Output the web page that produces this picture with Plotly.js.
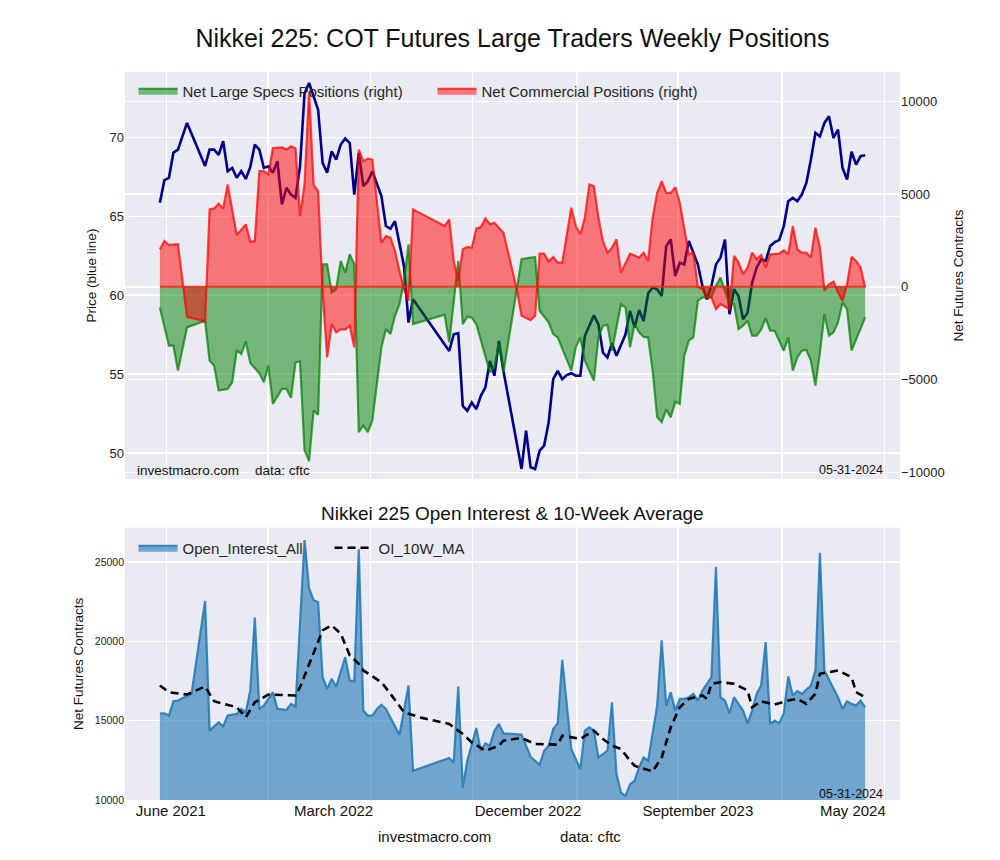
<!DOCTYPE html>
<html>
<head>
<meta charset="utf-8">
<script src="https://cdn.plot.ly/plotly-3.0.1.min.js"></script>
<style>html,body{margin:0;padding:0;background:#fff;}#chart{width:1000px;height:860px;}</style>
</head>
<body>
<div id="chart"></div>
<script>
// ---------- Top panel: price (left axis) ----------
const priceDates = ['2021-06-01','2021-06-08','2021-06-15','2021-06-22','2021-06-29','2021-07-13','2021-08-10','2021-08-17','2021-08-24','2021-08-31','2021-09-07','2021-09-14','2021-09-21','2021-09-28','2021-10-05','2021-10-12','2021-10-19','2021-10-26','2021-11-02','2021-11-09','2021-11-16','2021-11-23','2021-11-30','2021-12-07','2021-12-14','2021-12-21','2021-12-28','2022-01-04','2022-01-11','2022-01-18','2022-02-01','2022-02-08','2022-02-15','2022-02-22','2022-03-01','2022-03-08','2022-03-15','2022-03-22','2022-03-29','2022-04-05','2022-04-12','2022-04-19','2022-04-26','2022-05-10','2022-05-17','2022-05-24','2022-05-31','2022-06-07','2022-06-14','2022-06-21','2022-06-28','2022-08-23','2022-08-30','2022-09-06','2022-09-13','2022-09-20','2022-09-27','2022-10-04','2022-10-11','2022-10-18','2022-10-25','2022-11-01','2022-11-08','2022-11-15','2022-12-13','2022-12-20','2022-12-27','2023-01-03','2023-01-10','2023-01-17','2023-01-24','2023-01-31','2023-02-07','2023-02-14','2023-02-21','2023-02-28','2023-03-07','2023-03-14','2023-03-21','2023-04-04','2023-04-11','2023-04-18','2023-04-25','2023-05-02','2023-05-09','2023-05-23','2023-05-30','2023-06-06','2023-06-13','2023-06-20','2023-06-27','2023-07-04','2023-07-11','2023-07-18','2023-07-25','2023-08-01','2023-08-08','2023-08-15','2023-08-22','2023-08-29','2023-09-05','2023-09-12','2023-09-19','2023-09-26','2023-10-03','2023-10-10','2023-10-17','2023-10-24','2023-10-31','2023-11-07','2023-11-14','2023-11-21','2023-11-28','2023-12-05','2023-12-12','2023-12-19','2023-12-26','2024-01-02','2024-01-09','2024-01-16','2024-01-23','2024-01-30','2024-02-06','2024-02-13','2024-02-20','2024-02-27','2024-03-05','2024-03-12','2024-03-19','2024-03-26','2024-04-02','2024-04-09','2024-04-16','2024-04-23','2024-04-30','2024-05-07','2024-05-14','2024-05-21','2024-05-28'];
const priceVals = [65.87,67.3,67.45,69.05,69.24,70.93,68.2,69.24,69.24,68.9,69.77,67.87,68.08,67.45,67.87,67.38,68.14,69.56,69.24,68.08,68.18,67.77,68.5,65.76,66.82,66.39,66.18,68.18,72.8,73.46,71.77,68.4,67.77,69.13,68.6,69.56,69.94,69.66,66.39,69.03,66.92,67.23,67.87,66.29,64.39,64.22,64.7,63.33,61.85,58.27,59.75,56.47,57.53,57.6,52.99,52.68,53.2,52.78,53.63,54.16,55.84,54.9,57.1,55.2,48.99,51.41,49.1,48.99,50.15,50.47,51.94,54.68,55.2,54.68,54.94,55.06,54.9,54.9,57.42,58.73,58.16,56.37,56.06,56.96,56.16,57.53,59.01,57.96,59.07,58.37,60.13,60.49,60.38,59.96,63.12,63.54,61.22,62.07,61.96,63.44,62.7,61.96,60.59,59.75,60.59,61.96,62.39,63.54,58.8,60.38,59.96,58.48,58.9,60.8,61.75,62.28,62.17,63.12,63.37,63.5,64.39,65.97,66.18,65.97,66.39,67.13,68.6,70.3,70.08,70.93,71.35,69.98,70.5,68.08,67.34,69.1,68.29,68.82,68.88];

// ---------- Top panel: Net Large Specs (right axis) ----------
const specsDates = ['2021-06-01','2021-06-15','2021-06-22','2021-06-29','2021-07-13','2021-08-10','2021-08-17','2021-08-24','2021-08-31','2021-09-14','2021-09-21','2021-09-28','2021-10-05','2021-10-12','2021-10-19','2021-11-02','2021-11-09','2021-11-16','2021-11-23','2021-12-07','2021-12-14','2021-12-21','2021-12-28','2022-01-04','2022-01-11','2022-01-18','2022-01-25','2022-02-01','2022-02-08','2022-02-15','2022-02-22','2022-03-01','2022-03-08','2022-03-15','2022-03-22','2022-03-29','2022-04-05','2022-04-12','2022-04-19','2022-04-26','2022-05-10','2022-05-17','2022-05-24','2022-05-31','2022-06-07','2022-06-14','2022-06-21','2022-06-28','2022-08-16','2022-08-23','2022-09-06','2022-09-13','2022-09-20','2022-09-27','2022-10-04','2022-10-25','2022-11-01','2022-11-08','2022-11-15','2022-12-13','2022-12-27','2023-01-03','2023-01-10','2023-01-24','2023-01-31','2023-02-07','2023-02-28','2023-03-07','2023-03-14','2023-03-21','2023-04-04','2023-04-11','2023-04-18','2023-04-25','2023-05-02','2023-05-16','2023-05-23','2023-05-30','2023-06-06','2023-06-13','2023-06-20','2023-06-27','2023-07-04','2023-07-11','2023-07-18','2023-07-25','2023-08-01','2023-08-08','2023-08-15','2023-08-22','2023-08-29','2023-09-05','2023-09-12','2023-09-19','2023-09-26','2023-10-03','2023-10-10','2023-10-17','2023-10-24','2023-10-31','2023-11-07','2023-11-14','2023-11-21','2023-11-28','2023-12-05','2023-12-12','2023-12-19','2023-12-26','2024-01-02','2024-01-09','2024-01-23','2024-01-30','2024-02-06','2024-02-13','2024-02-20','2024-02-27','2024-03-05','2024-03-12','2024-03-19','2024-03-26','2024-04-02','2024-04-09','2024-04-16','2024-04-23','2024-04-30','2024-05-07','2024-05-28'];
const specsVals = [-1112,-3172,-3172,-4516,-2186,-1828,-3978,-4247,-5591,-5501,-5143,-3405,-3620,-2940,-4100,-4660,-5143,-4247,-6306,-5501,-5501,-5985,-4068,-4014,-8800,-9400,-6666,-6900,1220,1220,-306,-126,1398,770,1756,1220,-7832,-7473,-7832,-7204,-3262,-2276,-2545,-1559,-932,322,2295,-2007,-1505,-2993,1398,-2007,-1613,-1666,-2007,-4606,-4338,-3082,-4606,1487,1577,1600,-1290,-1917,-2545,-2724,-4516,-3262,-2724,-3978,-5053,-2724,-2097,-2043,-3441,-932,-1112,-3262,-2007,-2455,-2700,-2724,-4516,-7025,-7294,-6600,-7025,-6200,-6308,-3709,-2903,-2724,-753,-573,-573,-573,54,502,-215,-932,-932,-2276,-2097,-1828,-2634,-2634,-2300,-1685,-2366,-2366,-3441,-2724,-4516,-3800,-3441,-3405,-3978,-5322,-3530,-1470,-2634,-2455,-1917,-843,-1201,-3441,-1648];

// ---------- Top panel: Net Commercial (right axis) ----------
const commDates = ['2021-06-01','2021-06-08','2021-06-15','2021-06-29','2021-07-13','2021-08-10','2021-08-17','2021-08-24','2021-08-31','2021-09-07','2021-09-14','2021-09-28','2021-10-12','2021-10-19','2021-10-26','2021-11-02','2021-11-09','2021-11-16','2021-11-23','2021-12-07','2021-12-14','2021-12-21','2021-12-28','2022-01-04','2022-01-11','2022-01-18','2022-01-25','2022-02-01','2022-02-08','2022-02-15','2022-02-22','2022-03-01','2022-03-08','2022-03-15','2022-03-22','2022-03-29','2022-04-05','2022-04-12','2022-04-19','2022-04-26','2022-05-10','2022-05-17','2022-05-24','2022-05-31','2022-06-07','2022-06-14','2022-06-21','2022-06-28','2022-08-16','2022-08-23','2022-08-30','2022-09-06','2022-09-13','2022-09-20','2022-09-27','2022-10-04','2022-10-11','2022-10-18','2022-10-25','2022-11-01','2022-11-08','2022-11-15','2022-11-29','2022-12-06','2022-12-13','2022-12-27','2023-01-03','2023-01-10','2023-01-17','2023-01-24','2023-01-31','2023-02-07','2023-02-14','2023-02-28','2023-03-07','2023-03-14','2023-03-21','2023-03-28','2023-04-04','2023-04-11','2023-04-18','2023-04-25','2023-05-02','2023-05-09','2023-05-16','2023-05-30','2023-06-06','2023-06-13','2023-06-20','2023-06-27','2023-07-04','2023-07-11','2023-07-18','2023-07-25','2023-08-01','2023-08-08','2023-08-15','2023-08-22','2023-08-29','2023-09-05','2023-09-12','2023-09-19','2023-09-26','2023-10-03','2023-10-10','2023-10-17','2023-10-24','2023-10-31','2023-11-07','2023-11-14','2023-11-21','2023-11-28','2023-12-05','2023-12-12','2023-12-19','2023-12-26','2024-01-02','2024-01-16','2024-01-23','2024-01-30','2024-02-06','2024-02-13','2024-02-20','2024-02-27','2024-03-05','2024-03-12','2024-03-19','2024-03-26','2024-04-02','2024-04-09','2024-04-16','2024-04-23','2024-04-30','2024-05-07','2024-05-14','2024-05-21','2024-05-28'];
const commVals = [2026,2473,2258,2295,-1613,-1863,4176,4230,4480,4230,5520,2795,3369,2437,2474,6236,6236,6057,7489,7526,7400,7580,7470,3817,5520,10537,5500,5160,-215,-3799,-2007,-2455,-2276,-2300,-2097,-3262,7400,6774,6917,6864,2384,2742,2652,1935,860,-126,-753,4176,3280,3638,1398,322,2026,2150,2110,3155,3225,3692,3369,3459,3190,2920,860,-215,-1559,-1792,-1559,1792,1792,1362,1613,1308,1308,4265,3280,2831,3727,5520,5430,3727,2473,1845,2115,2563,770,1792,1685,1577,1845,1398,3727,5069,5699,5069,5069,5376,4533,3190,1756,1845,0,-126,-573,-573,-1201,-932,-1075,-1201,1667,1308,681,1040,1845,1487,1720,1040,1756,1792,1972,1756,3280,2026,1845,1845,1577,3190,2115,-215,143,287,-306,-753,143,1613,1398,1040,-36];

// ---------- Bottom panel: open interest and 10-week average ----------
const oiDates = ['2021-06-01','2021-06-08','2021-06-15','2021-06-22','2021-06-29','2021-07-13','2021-07-20','2021-08-10','2021-08-17','2021-08-31','2021-09-07','2021-09-14','2021-09-28','2021-10-05','2021-10-12','2021-10-19','2021-10-26','2021-11-02','2021-11-09','2021-11-23','2021-11-30','2021-12-14','2021-12-21','2021-12-28','2022-01-04','2022-01-11','2022-01-18','2022-01-25','2022-02-01','2022-02-08','2022-02-15','2022-02-22','2022-03-01','2022-03-15','2022-03-22','2022-03-29','2022-04-05','2022-04-12','2022-04-19','2022-04-26','2022-05-03','2022-05-10','2022-05-17','2022-05-24','2022-06-07','2022-06-21','2022-06-28','2022-08-23','2022-08-30','2022-09-06','2022-09-13','2022-09-20','2022-10-04','2022-10-11','2022-10-18','2022-10-25','2022-11-01','2022-11-08','2022-11-15','2022-12-13','2022-12-27','2023-01-10','2023-01-17','2023-01-24','2023-01-31','2023-02-07','2023-02-14','2023-02-28','2023-03-14','2023-03-21','2023-03-28','2023-04-04','2023-04-11','2023-04-18','2023-04-25','2023-05-02','2023-05-09','2023-05-16','2023-05-23','2023-05-30','2023-06-06','2023-06-13','2023-06-20','2023-06-27','2023-07-11','2023-07-18','2023-07-25','2023-08-01','2023-08-08','2023-08-15','2023-08-22','2023-08-29','2023-09-05','2023-09-12','2023-09-19','2023-10-03','2023-10-10','2023-10-17','2023-10-24','2023-10-31','2023-11-07','2023-11-14','2023-11-21','2023-11-28','2023-12-05','2023-12-12','2023-12-19','2023-12-26','2024-01-02','2024-01-09','2024-01-16','2024-01-23','2024-01-30','2024-02-06','2024-02-13','2024-02-20','2024-02-27','2024-03-05','2024-03-12','2024-03-19','2024-03-26','2024-04-02','2024-04-09','2024-04-16','2024-04-23','2024-04-30','2024-05-07','2024-05-14','2024-05-21','2024-05-28'];
const oiVals = [15462,15462,15316,16222,16266,16582,16690,22550,14367,14894,14641,15316,15422,15740,15527,16899,21497,15740,15949,16791,15740,15677,16055,15886,21538,26392,23335,22595,22487,17740,17006,17639,17152,19006,17532,17487,25804,15633,15316,15316,15740,16000,15740,15209,14114,17215,11835,12639,12361,17152,10779,12468,14538,13101,13563,13418,14367,14791,14196,14114,12722,12215,13101,13418,14474,14831,18842,13209,11943,14367,14576,14367,12678,12892,13101,16158,11627,10462,10253,10993,11203,12045,12678,12468,15949,20063,15949,16791,15633,16373,16373,16475,16690,16266,16899,17740,24705,16475,16266,15462,16475,16055,15633,14831,15633,16690,17215,19955,14791,15000,14831,15462,17785,16582,16855,16690,16943,17215,18164,25589,18164,17600,17108,16475,15740,16222,16055,15949,16266,15842];
const maDates = ['2021-06-01','2021-06-15','2021-07-13','2021-08-10','2021-08-24','2021-09-28','2021-10-12','2021-10-26','2021-11-16','2021-12-28','2022-01-04','2022-01-25','2022-02-08','2022-02-22','2022-03-08','2022-03-22','2022-04-05','2022-04-12','2022-04-26','2022-05-10','2022-05-24','2022-06-14','2022-07-12','2022-08-23','2022-09-13','2022-09-27','2022-10-18','2022-11-08','2022-11-15','2022-12-13','2023-01-03','2023-02-07','2023-02-14','2023-03-14','2023-04-04','2023-04-18','2023-05-02','2023-05-16','2023-05-30','2023-06-06','2023-07-04','2023-07-18','2023-08-01','2023-08-15','2023-08-29','2023-09-19','2023-09-26','2023-10-03','2023-10-17','2023-11-07','2023-11-28','2023-12-05','2023-12-19','2024-01-09','2024-01-30','2024-02-13','2024-02-27','2024-03-12','2024-03-19','2024-04-16','2024-05-07','2024-05-14','2024-05-28'];
const maVals = [17215,16791,16645,17152,16222,15842,15209,16158,16645,16582,17108,19221,20696,21012,20485,19113,18588,18164,17785,17424,16690,15527,15171,14789,14158,13627,13101,13418,13734,13905,13525,13481,14051,13842,14367,13842,13418,13209,12468,12152,11792,12678,14576,15842,16373,16582,16373,17322,17424,17322,16899,15842,16222,16013,16266,16373,16055,16690,17955,18164,17740,16791,16475];

// ---------- Axis labels ----------
const gridDates = ['2021-06-11','2021-11-15','2022-04-23','2022-09-28','2023-03-09','2023-08-12','2024-01-20','2024-06-27'];
const xLabelDates = ['2021-06-18','2022-02-25','2022-12-23','2023-09-12','2024-05-09'];
const xLabels = ['June 2021','March 2022','December 2022','September 2023','May 2024'];
const priceTicks = [50,55,60,65,70];
const posTicks = [-10000,-5000,0,5000,10000];
const posTickText = ['\u221210000','\u22125000','0','5000','10000'];
const oiTicks = [10000,15000,20000,25000];
const oiTickText = ['10000','15000','20000','25000'];

const FONT = 'Liberation Sans, Arial, Helvetica, sans-serif';
const TXT = '#262626';
const GRID = '#ffffff';
const xRange = ['2021-04-08','2024-07-21'];

const traces = [
  {x: priceDates, y: priceVals, type:'scatter', mode:'lines', xaxis:'x', yaxis:'y',
   line:{color:'#00008b', width:2.6}, showlegend:false, name:'Price'},
  {x: specsDates, y: specsVals, type:'scatter', mode:'lines', xaxis:'x', yaxis:'y2',
   fill:'tozeroy', fillcolor:'rgba(0,128,0,0.5)', line:{color:'rgba(0,128,0,0.72)', width:2.2},
   name:'Net Large Specs Positions (right)', legend:'legend'},
  {x: commDates, y: commVals, type:'scatter', mode:'lines', xaxis:'x', yaxis:'y2',
   fill:'tozeroy', fillcolor:'rgba(255,0,0,0.5)', line:{color:'rgba(255,0,0,0.72)', width:2.2},
   name:'Net Commercial Positions (right)', legend:'legend'},
  {x: [commDates[0], commDates[commDates.length-1]], y: [0, 0], type:'scatter', mode:'lines',
   xaxis:'x', yaxis:'y2', line:{color:'rgba(230,40,20,0.85)', width:2}, showlegend:false, hoverinfo:'skip'},
  {x: oiDates, y: oiVals, type:'scatter', mode:'lines', xaxis:'x2', yaxis:'y3',
   fill:'tozeroy', fillcolor:'rgba(31,119,180,0.6)', line:{color:'rgba(31,119,180,0.85)', width:2.2},
   name:'Open_Interest_All', legend:'legend2'},
  {x: maDates, y: maVals, type:'scatter', mode:'lines', xaxis:'x2', yaxis:'y3',
   line:{color:'#000000', width:2.6, dash:'8px,5px'}, name:'OI_10W_MA', legend:'legend2'}
];

const layout = {
  width:1000, height:860,
  margin:{l:125, r:100, t:72, b:60},
  paper_bgcolor:'#ffffff', plot_bgcolor:'#EAEAF2',
  font:{family:FONT, color:TXT, size:13},
  title:{text:'Nikkei 225: COT Futures Large Traders Weekly Positions', x:0.5, xref:'paper', y:1-38/860, yref:'container', yanchor:'middle',
         font:{family:FONT, size:25, color:'#111'}},
  xaxis:{domain:[0,1], anchor:'y', type:'date', range:xRange, tickmode:'array', tickvals:gridDates,
         showticklabels:false, ticks:'', showgrid:true, gridcolor:GRID, gridwidth:1.6, zeroline:false, showline:false},
  xaxis2:{domain:[0,1], anchor:'y3', type:'date', range:xRange, tickmode:'array', tickvals:xLabelDates, ticktext:xLabels,
          ticks:'', showgrid:false, zeroline:false, showline:false, tickfont:{size:15, color:'#111'},
          minor:{tickmode:'array', tickvals:gridDates, showgrid:true, gridcolor:GRID, gridwidth:1.6, ticks:''}},
  yaxis:{domain:[0.4409,1], anchor:'x', range:[48.35,74.16], tickmode:'array', tickvals:priceTicks,
         showgrid:true, gridcolor:GRID, gridwidth:1.6, zeroline:false, ticks:'', tickfont:{size:13, color:'#222'},
         title:{text:'Price (blue line)', font:{size:13.5, color:'#111'}, standoff:9}},
  yaxis2:{overlaying:'y', anchor:'x', side:'right', range:[-10361,11584], tickmode:'array', tickvals:posTicks, ticktext:posTickText,
          showgrid:true, gridcolor:GRID, gridwidth:1.6, zeroline:false, ticks:'', tickfont:{size:13, color:'#222'},
          title:{text:'Net Futures Contracts', font:{size:13.5, color:'#111'}, standoff:9}},
  yaxis3:{domain:[0,0.374], anchor:'x2', range:[9990,27170], tickmode:'array', tickvals:oiTicks, ticktext:oiTickText,
          showgrid:true, gridcolor:GRID, gridwidth:1.6, zeroline:false, ticks:'', tickfont:{size:10.5, color:'#222'},
          title:{text:'Net Futures Contracts', font:{size:13.5, color:'#111'}, standoff:8}},
  legend:{orientation:'h', x:0.011, xanchor:'left', y:(800-91)/728, yanchor:'middle', bgcolor:'rgba(0,0,0,0)',
          font:{size:15, color:TXT}, itemwidth:39, entrywidth:245, entrywidthmode:'pixels', traceorder:'normal'},
  legend2:{orientation:'h', x:0.011, xanchor:'left', y:(800-548)/728, yanchor:'middle', bgcolor:'rgba(0,0,0,0)',
           font:{size:15, color:TXT}, itemwidth:39, entrywidth:142, entrywidthmode:'pixels', traceorder:'normal'},
  annotations:[
    {text:'Nikkei 225 Open Interest & 10-Week Average', xref:'paper', yref:'paper', x:0.5, y:(800-513)/728,
     xanchor:'center', yanchor:'middle', showarrow:false, font:{size:19, color:'#111'}},
    {text:'investmacro.com', xref:'paper', yref:'paper', x:(135-125)/775, y:(800-470)/728, xanchor:'left', yanchor:'middle',
     showarrow:false, font:{size:13.5, color:'#111'}},
    {text:'data: cftc', xref:'paper', yref:'paper', x:(252.5-125)/775, y:(800-470)/728, xanchor:'left', yanchor:'middle',
     showarrow:false, font:{size:13.5, color:'#111'}},
    {text:'05-31-2024', xref:'paper', yref:'paper', x:(885-125)/775, y:(800-470)/728, xanchor:'right', yanchor:'middle',
     showarrow:false, font:{size:12.5, color:'#111'}},
    {text:'05-31-2024', xref:'paper', yref:'paper', x:(885-125)/775, y:(800-794)/728, xanchor:'right', yanchor:'middle',
     showarrow:false, font:{size:12.5, color:'#111'}},
    {text:'investmacro.com', xref:'paper', yref:'paper', x:(434.5-125)/775, y:(800-836.5)/728, xanchor:'center', yanchor:'middle',
     showarrow:false, font:{size:15, color:'#111'}},
    {text:'data: cftc', xref:'paper', yref:'paper', x:(590-125)/775, y:(800-836.5)/728, xanchor:'center', yanchor:'middle',
     showarrow:false, font:{size:15, color:'#111'}}
  ]
};

Plotly.newPlot('chart', traces, layout, {displayModeBar:false, staticPlot:true});
</script>
</body>
</html>
